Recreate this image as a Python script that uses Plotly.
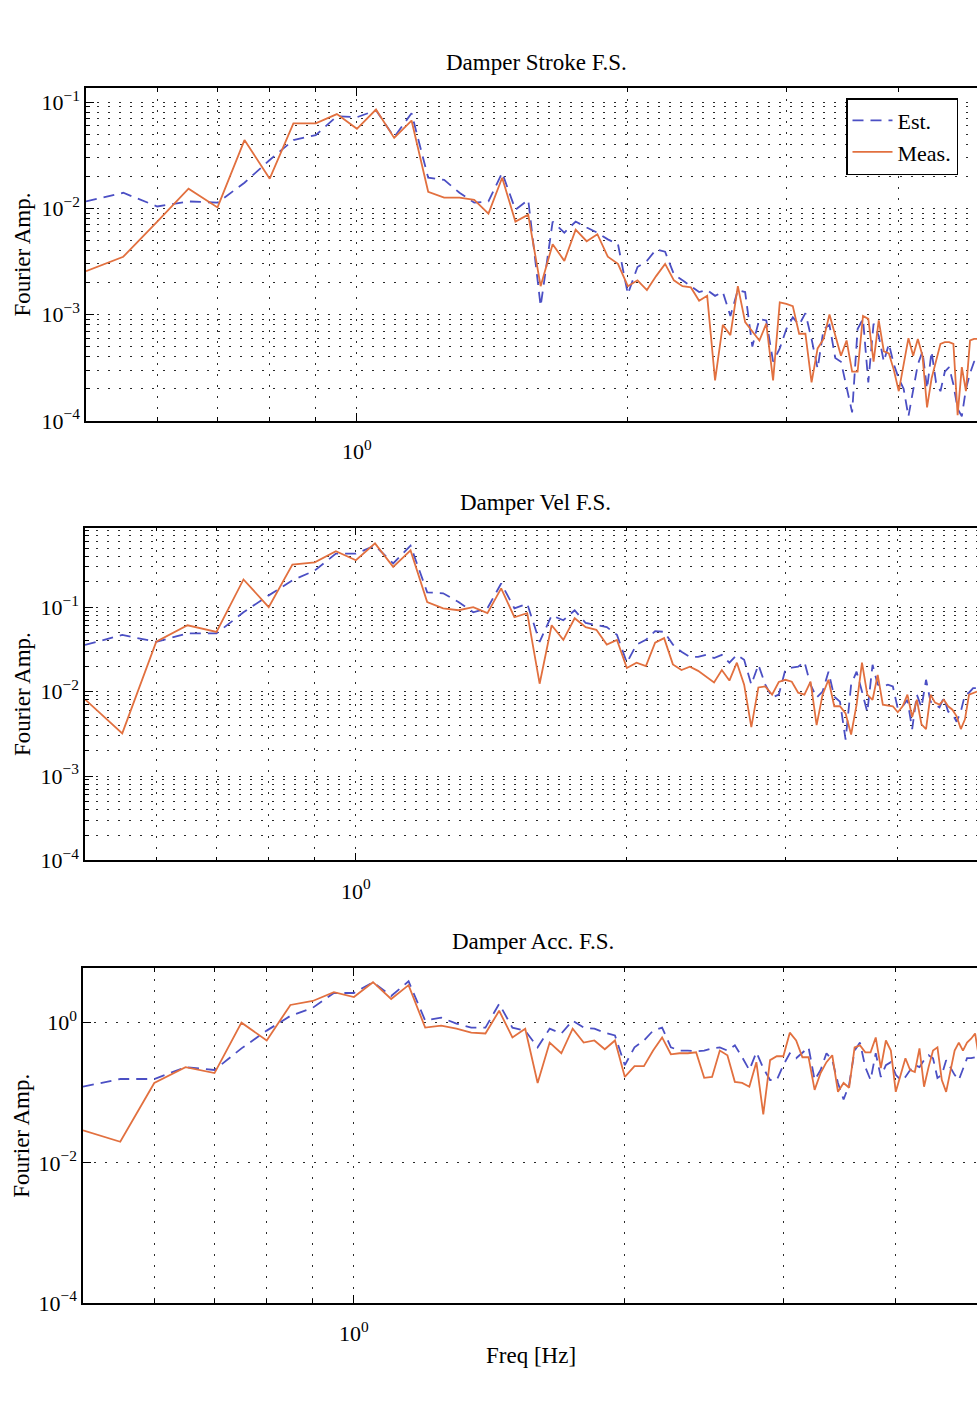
import math
import plotly.graph_objects as go

# Frequency bins [Hz]
freq = [0.50, 0.55, 0.60, 0.65, 0.70, 0.75, 0.80, 0.85, 0.90, 0.95,
        1.00, 1.05, 1.10, 1.15, 1.20, 1.25, 1.30, 1.35, 1.40, 1.45,
        1.50, 1.55, 1.60, 1.65, 1.70, 1.75, 1.80, 1.85, 1.90, 1.95,
        2.00, 2.05, 2.10, 2.15, 2.20, 2.25, 2.30, 2.35, 2.40, 2.45,
        2.50, 2.55, 2.60, 2.65, 2.70, 2.75, 2.80, 2.85, 2.90, 2.95,
        3.00, 3.05, 3.10, 3.15, 3.20, 3.25, 3.30, 3.35, 3.40, 3.45,
        3.50, 3.55, 3.60, 3.65, 3.70, 3.75, 3.80, 3.85, 3.90, 3.95,
        4.00, 4.05, 4.10, 4.15, 4.20, 4.25, 4.30, 4.35, 4.40, 4.45,
        4.50, 4.55, 4.60, 4.65, 4.70, 4.75, 4.80, 4.85, 4.90, 4.95,
        5.00]

# Damper stroke Fourier spectrum
stroke_est = [0.0116, 0.014, 0.0104, 0.0116, 0.0113, 0.0174, 0.0285, 0.0439, 0.0489, 0.0735,
              0.072, 0.0836, 0.0468, 0.0784, 0.0194, 0.0185, 0.014, 0.0113, 0.0116, 0.0216,
              0.0097, 0.012, 0.0012, 0.0075, 0.0059, 0.0075, 0.0066, 0.0059, 0.0051, 0.0046,
              0.00156, 0.0028, 0.0032, 0.0041, 0.0039, 0.0024, 0.0021, 0.00185, 0.00163, 0.0017,
              0.0015, 0.00163, 0.00097, 0.0017, 0.00163, 0.0005, 0.00091, 0.00088, 0.00036, 0.00048,
              0.00073, 0.00094, 0.0008, 0.00103, 0.00059, 0.00031, 0.00073, 0.0008, 0.00039, 0.00036,
              0.0002, 0.00012, 0.00073, 0.00091, 0.00023, 0.00082, 0.00063, 0.00036, 0.00053, 0.00034,
              0.00025, 0.0002, 0.00011, 0.0002, 0.00034, 0.00045, 0.0002, 0.00045, 0.00023, 0.00019,
              0.00029, 0.00032, 0.00022, 0.00013, 0.00011, 0.0002, 0.00028, 0.00036, 0.00039, 0.00039,
              0.00039]
stroke_meas = [0.00256, 0.0035, 0.0075, 0.0153, 0.0102, 0.0439, 0.019, 0.063, 0.063, 0.077,
               0.056, 0.085, 0.046, 0.067, 0.0143, 0.0126, 0.0126, 0.012, 0.0089, 0.0194,
               0.0075, 0.0087, 0.00185, 0.0046, 0.0032, 0.0063, 0.0049, 0.0057, 0.0035, 0.003,
               0.00185, 0.0021, 0.0017, 0.0023, 0.003, 0.0021, 0.00185, 0.0018, 0.00135, 0.0015,
               0.00024, 0.0008, 0.00064, 0.00185, 0.00085, 0.0007, 0.00057, 0.00082, 0.00024, 0.0013,
               0.00126, 0.0012, 0.00066, 0.00066, 0.00023, 0.00048, 0.00059, 0.001, 0.00063, 0.00041,
               0.00057, 0.00029, 0.00029, 0.00097, 0.00091, 0.00036, 0.00088, 0.00045, 0.00043, 0.0003,
               0.00019, 0.00035, 0.0006, 0.00041, 0.00059, 0.00041, 0.000134, 0.00025, 0.00037, 0.00053,
               0.00055, 0.00055, 0.00053, 0.000113, 0.00032, 0.00019, 0.00057, 0.00059, 0.00059, 0.00053,
               0.00053]

# Damper velocity Fourier spectrum
vel_est = [0.0357, 0.0469, 0.0388, 0.049, 0.049, 0.087, 0.138, 0.208, 0.272, 0.431,
           0.431, 0.536, 0.33, 0.536, 0.15, 0.146, 0.115, 0.087, 0.097, 0.191,
           0.097, 0.11, 0.0388, 0.08, 0.070, 0.092, 0.065, 0.061, 0.058, 0.047,
           0.022, 0.036, 0.041, 0.052, 0.051, 0.036, 0.0296, 0.0258, 0.0258, 0.0272,
           0.025, 0.0272, 0.022, 0.0272, 0.0238, 0.0121, 0.0208, 0.0121, 0.0085, 0.0092,
           0.0181, 0.0192, 0.0197, 0.0225, 0.0121, 0.0085, 0.010, 0.0172, 0.0087, 0.0076,
           0.0027, 0.0121, 0.0172, 0.010, 0.0057, 0.0208, 0.0121, 0.0115, 0.0121, 0.0115,
           0.0063, 0.0067, 0.008, 0.0036, 0.0092, 0.0065, 0.0138, 0.0076, 0.007, 0.0065,
           0.0085, 0.0058, 0.0054, 0.0044, 0.0058, 0.0092, 0.0097, 0.011, 0.011, 0.011,
           0.011]
vel_meas = [0.0081, 0.0032, 0.039, 0.061, 0.051, 0.213, 0.10, 0.32, 0.34, 0.46,
            0.36, 0.57, 0.30, 0.47, 0.115, 0.097, 0.092, 0.10, 0.085, 0.167,
            0.076, 0.085, 0.0124, 0.061, 0.041, 0.074, 0.058, 0.054, 0.036, 0.041,
            0.019, 0.022, 0.020, 0.038, 0.043, 0.021, 0.018, 0.0197, 0.0176, 0.015,
            0.0128, 0.018, 0.0135, 0.022, 0.0121, 0.0038, 0.0112, 0.0115, 0.0092, 0.013,
            0.0138, 0.0131, 0.0097, 0.0092, 0.0131, 0.004, 0.0092, 0.0138, 0.0067, 0.0067,
            0.0055, 0.0031, 0.0070, 0.022, 0.0092, 0.008, 0.0158, 0.007, 0.0068, 0.0067,
            0.0057, 0.0067, 0.0092, 0.005, 0.008, 0.0041, 0.0036, 0.0092, 0.0074, 0.007,
            0.008, 0.0067, 0.0061, 0.0051, 0.0036, 0.0047, 0.0092, 0.0097, 0.010, 0.011,
            0.011]

# Damper acceleration Fourier spectrum
acc_est = [0.122, 0.157, 0.157, 0.232, 0.211, 0.43, 0.77, 1.25, 1.63, 2.65,
           2.65, 3.78, 2.4, 3.9, 1.07, 1.18, 0.97, 0.85, 0.85, 1.85,
           0.85, 0.77, 0.445, 0.82, 0.70, 1.07, 0.85, 0.82, 0.72, 0.656,
           0.248, 0.445, 0.557, 0.77, 0.85, 0.445, 0.40, 0.40, 0.39, 0.40,
           0.43, 0.445, 0.40, 0.474, 0.321, 0.211, 0.378, 0.225, 0.152, 0.152,
           0.248, 0.366, 0.311, 0.378, 0.445, 0.152, 0.211, 0.366, 0.292, 0.138,
           0.08, 0.13, 0.40, 0.52, 0.232, 0.152, 0.366, 0.168, 0.248, 0.273,
           0.18, 0.152, 0.168, 0.211, 0.248, 0.232, 0.292, 0.343, 0.311, 0.163,
           0.18, 0.292, 0.232, 0.18, 0.152, 0.211, 0.311, 0.311, 0.321, 0.321,
           0.321]
acc_meas = [0.029, 0.020, 0.138, 0.232, 0.191, 1.0, 0.557, 1.79, 2.04, 2.73,
            2.32, 3.78, 2.18, 3.43, 0.85, 0.91, 0.82, 0.72, 0.70, 1.48,
            0.615, 0.82, 0.138, 0.52, 0.366, 0.82, 0.52, 0.557, 0.417, 0.557,
            0.168, 0.24, 0.24, 0.40, 0.615, 0.354, 0.366, 0.366, 0.378, 0.163,
            0.168, 0.40, 0.343, 0.143, 0.138, 0.122, 0.273, 0.049, 0.292, 0.332,
            0.332, 0.72, 0.557, 0.321, 0.321, 0.110, 0.191, 0.273, 0.343, 0.103,
            0.138, 0.118, 0.445, 0.474, 0.378, 0.378, 0.615, 0.225, 0.557, 0.40,
            0.103, 0.18, 0.311, 0.211, 0.198, 0.43, 0.122, 0.232, 0.40, 0.445,
            0.152, 0.103, 0.211, 0.40, 0.52, 0.40, 0.52, 0.59, 0.70, 0.311,
            0.311]

titles = ["Damper Stroke F.S.", "Damper Vel F.S.", "Damper Acc. F.S."]

W, H = 977, 1417
FONT = "Liberation Serif, Times New Roman, serif"
EST_COLOR = "#4b4fc4"
MEAS_COLOR = "#e2703f"
GRID_COLOR = "#2a2a2a"
GRID_DASH = "2px,9px"
TEXT_SIZE = 23
TICK_SIZE = 22

# Pixel geometry of each panel: left edge, top, bottom
panels = [
    dict(left=86, top=88, bottom=424, yrange=[-4, -0.869],
         yticks=[1e-4, 1e-3, 1e-2, 1e-1], yminor=True,
         est=stroke_est, meas=stroke_meas, title_y=62, ylabel_y=256),
    dict(left=85, top=532, bottom=868, yrange=[-4, -0.059],
         yticks=[1e-4, 1e-3, 1e-2, 1e-1], yminor=True,
         est=vel_est, meas=vel_meas, title_y=507, ylabel_y=700),
    dict(left=83, top=977, bottom=1315, yrange=[-4, 0.775],
         yticks=[1e-4, 1e-2, 1e0], yminor=False,
         est=acc_est, meas=acc_meas, title_y=950, ylabel_y=1146),
]
PX_PER_DECADE_X = 900.0


def sup_label(v):
    e = int(round(math.log10(v)))
    s = str(e).replace("-", "\u2212")
    return f"10<sup>{s}</sup>"


fig = go.Figure()
annotations = []
layout_axes = {}

for i, (p, title) in enumerate(zip(panels, titles)):
    n = "" if i == 0 else str(i + 1)
    xa, ya = "x" + n, "y" + n

    fig.add_trace(go.Scatter(
        x=freq, y=p["est"], mode="lines", name="Est.",
        line=dict(color=EST_COLOR, width=1.8, dash="11px,7px"),
        xaxis=xa, yaxis=ya, showlegend=(i == 0)))
    fig.add_trace(go.Scatter(
        x=freq, y=p["meas"], mode="lines", name="Meas.",
        line=dict(color=MEAS_COLOR, width=1.8),
        xaxis=xa, yaxis=ya, showlegend=(i == 0)))

    x0 = math.log10(0.5)
    x1 = x0 + (W - p["left"]) / PX_PER_DECADE_X
    layout_axes["xaxis" + n] = dict(
        type="log", domain=[p["left"] / W, 1.0], range=[x0, x1], anchor=ya,
        tickmode="array", tickvals=[1], ticktext=["10<sup>0</sup>"],
        showline=True, linecolor="black", linewidth=1.5, mirror="ticks",
        ticks="inside", ticklen=8, tickwidth=1, tickcolor="black",
        ticklabelstandoff=10,
        showgrid=True, gridcolor=GRID_COLOR, gridwidth=1.3, griddash=GRID_DASH,
        minor=dict(tickmode="array", tickvals=[0.6, 0.7, 0.8, 0.9, 2, 3, 4],
                   ticks="inside", ticklen=4, tickcolor="black",
                   showgrid=True, gridcolor=GRID_COLOR, gridwidth=1.3,
                   griddash=GRID_DASH),
        zeroline=False, tickfont=dict(family=FONT, size=TICK_SIZE, color="black"),
    )

    yminor_vals = []
    if p["yminor"]:
        for d in range(-4, 0):
            for k in range(2, 10):
                yminor_vals.append(k * 10 ** d)
    ydom = [1 - p["bottom"] / H, 1 - p["top"] / H]
    yax = dict(
        type="log", domain=ydom, range=p["yrange"], anchor=xa,
        tickmode="array", tickvals=p["yticks"],
        ticktext=[sup_label(v) for v in p["yticks"]],
        showline=True, linecolor="black", linewidth=1.5, mirror=False,
        ticks="inside", ticklen=8, tickwidth=1, tickcolor="black",
        showgrid=True, gridcolor=GRID_COLOR, gridwidth=1.3, griddash=GRID_DASH,
        zeroline=False, tickfont=dict(family=FONT, size=TICK_SIZE, color="black"),
    )
    if yminor_vals:
        yax["minor"] = dict(tickmode="array", tickvals=yminor_vals,
                            ticks="inside", ticklen=4, tickcolor="black",
                            showgrid=True, gridcolor=GRID_COLOR, gridwidth=1.3,
                            griddash=GRID_DASH)
    layout_axes["yaxis" + n] = yax

    centre_x = (p["left"] + p["left"] + PX_PER_DECADE_X) / 2 / W
    annotations.append(dict(
        text=title, x=centre_x, y=1 - p["title_y"] / H, xref="paper", yref="paper",
        xanchor="center", yanchor="middle", showarrow=False,
        font=dict(family=FONT, size=TEXT_SIZE, color="black")))
    annotations.append(dict(
        text="Fourier Amp.", x=22 / W, y=1 - p["ylabel_y"] / H, xref="paper",
        yref="paper", xanchor="center", yanchor="middle", textangle=-90,
        showarrow=False, font=dict(family=FONT, size=TEXT_SIZE, color="black")))

annotations.append(dict(
    text="Freq [Hz]", x=531 / W, y=1 - 1368 / H, xref="paper", yref="paper",
    xanchor="center", yanchor="middle", showarrow=False,
    font=dict(family=FONT, size=TEXT_SIZE, color="black")))

fig.update_layout(
    width=W, height=H,
    margin=dict(l=0, r=0, t=0, b=0),
    paper_bgcolor="white", plot_bgcolor="white",
    annotations=annotations,
    legend=dict(x=846 / W, y=1 - 98 / H, xanchor="left", yanchor="top",
                bgcolor="white", bordercolor="black", borderwidth=1.5,
                font=dict(family=FONT, size=22, color="black"),
                tracegroupgap=0, itemwidth=40),
    **layout_axes,
)

fig.write_html("out.html")
